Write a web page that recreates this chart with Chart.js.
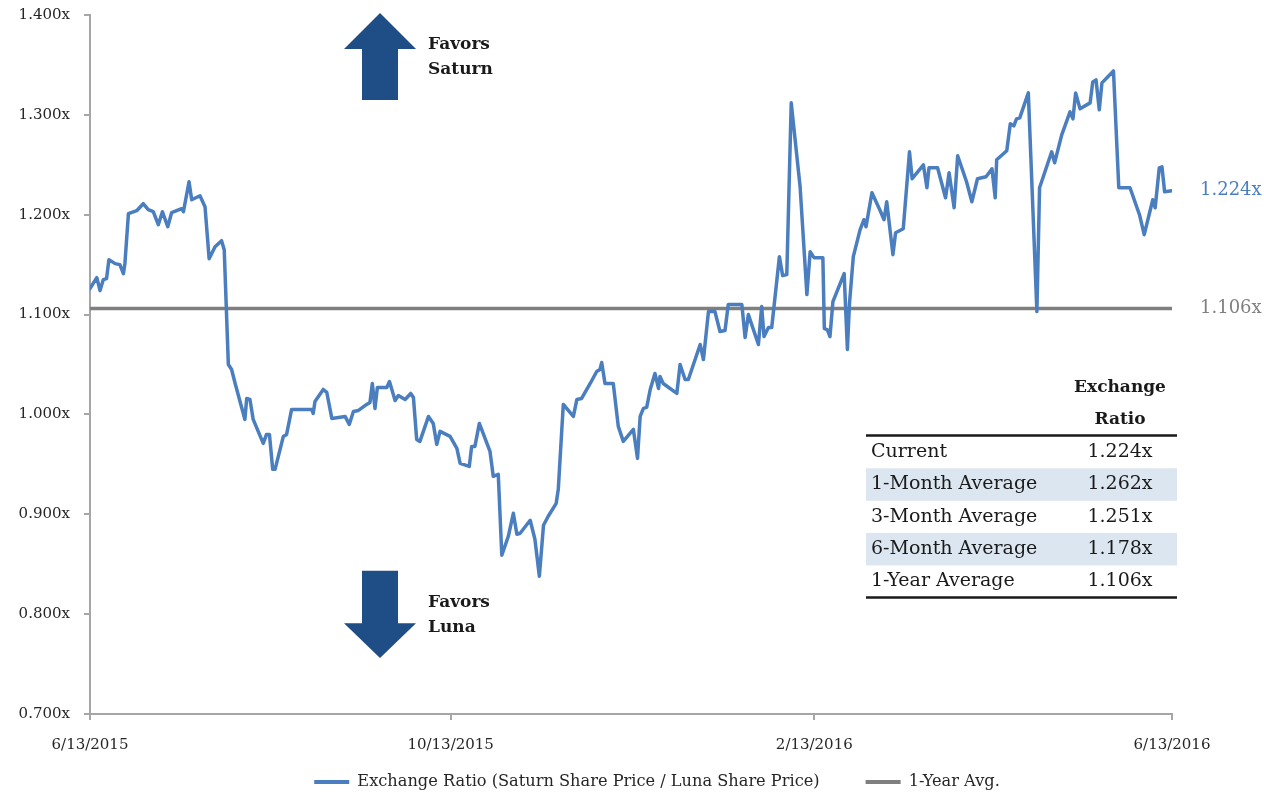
<!DOCTYPE html>
<html>
<head>
<meta charset="utf-8">
<script src="https://cdn.jsdelivr.net/npm/chart.js@4.4.0/dist/chart.umd.min.js"></script>
<style>
html,body{margin:0;padding:0;background:#fff;}
#wrap{width:1264px;height:793px;position:relative;}
canvas{display:block;}
</style>
</head>
<body>
<div id="wrap"><canvas id="c" width="1264" height="793"></canvas></div>
<script>
// ---------------- DATA ----------------
const tickDays = [0, 122, 245, 366];
const tickLabels = ['6/13/2015', '10/13/2015', '2/13/2016', '6/13/2016'];
const seriesNames = ['Exchange Ratio (Saturn Share Price / Luna Share Price)', '1-Year Avg.'];

// days since 6/13/2015
const days = [0,2.3,3.4,4.5,5.6,6.4,8.5,10.1,11.3,11.8,
13.0,15.8,18.0,19.7,21.4,23.1,24.5,26.3,27.6,31.0,
31.6,33.5,34.4,37.2,38.9,40.3,42.3,44.5,45.4,46.8,
47.9,49.1,52.4,53.0,54.1,55.2,58.6,59.7,60.7,61.8,
62.6,65.4,66.5,68.2,75.0,75.5,76.1,78.9,80.1,81.8,
86.3,87.7,89.1,90.8,93.6,94.7,95.5,96.4,97.2,100.4,
101.3,103.2,104.3,106.6,108.5,109.4,110.5,111.6,114.5,116.1,
117.3,118.4,121.8,124.1,125.2,128.3,129.1,130.2,131.7,135.3,
136.4,138.1,139.3,141.5,143.2,144.4,145.5,148.9,150.5,152.0,
153.4,155.0,157.7,158.4,160.1,163.5,164.7,166.3,169.2,171.4,
172.5,173.1,174.2,177.0,178.7,180.4,183.8,185.2,186.1,187.2,
188.3,189.5,191.1,192.3,192.8,193.9,198.5,199.6,201.3,202.4,
206.4,207.5,209.2,211.4,213.1,214.8,215.9,220.5,221.6,222.7,
226.1,227.2,228.0,229.5,230.6,233.2,234.3,235.7,237.2,240.2,
242.5,243.6,244.9,247.9,248.4,249.4,250.3,251.3,255.1,256.2,
256.9,258.2,260.5,261.8,262.5,264.5,267.3,268.6,269.5,271.6,
272.5,275.1,277.2,278.1,281.9,283.1,283.8,286.7,289.4,290.6,
292.3,293.5,296.5,298.3,300.2,303.1,305.1,306.2,306.7,310.1,
311.3,312.5,313.4,314.5,317.4,320.3,321.2,325.3,326.3,328.7,
331.5,332.5,333.4,334.9,338.3,339.2,340.3,341.4,342.3,346.2,
348.0,351.8,355.0,356.6,359.5,360.3,361.7,362.6,363.5,366.0];

const ratio = [1.126,1.137,1.124,1.135,1.136,1.155,1.151,1.150,1.141,1.151,
1.201,1.204,1.211,1.205,1.203,1.190,1.203,1.188,1.202,1.206,
1.203,1.233,1.215,1.219,1.208,1.156,1.168,1.174,1.165,1.050,
1.045,1.031,0.995,1.016,1.015,0.995,0.971,0.980,0.980,0.945,
0.945,0.978,0.980,1.005,1.005,1.001,1.013,1.025,1.022,0.996,
0.998,0.990,1.003,1.004,1.010,1.012,1.031,1.006,1.027,1.027,
1.033,1.014,1.019,1.015,1.021,1.017,0.975,0.973,0.998,0.991,
0.970,0.983,0.978,0.966,0.951,0.948,0.968,0.968,0.991,0.963,
0.938,0.940,0.859,0.878,0.901,0.880,0.881,0.894,0.875,0.838,
0.889,0.898,0.911,0.925,1.010,0.998,1.015,1.016,1.031,1.043,
1.045,1.052,1.031,1.031,0.988,0.973,0.985,0.956,0.998,1.006,
1.007,1.025,1.041,1.026,1.038,1.031,1.021,1.050,1.035,1.035,
1.070,1.055,1.103,1.103,1.083,1.084,1.110,1.110,1.077,1.100,
1.070,1.108,1.078,1.087,1.087,1.158,1.139,1.140,1.312,1.228,
1.120,1.163,1.157,1.157,1.086,1.085,1.078,1.113,1.141,1.065,
1.111,1.158,1.185,1.195,1.188,1.222,1.204,1.195,1.213,1.160,
1.182,1.186,1.263,1.236,1.250,1.227,1.247,1.247,1.217,1.242,
1.207,1.259,1.233,1.213,1.236,1.238,1.246,1.217,1.255,1.264,
1.291,1.289,1.296,1.297,1.322,1.103,1.227,1.263,1.252,1.280,
1.303,1.296,1.322,1.306,1.312,1.333,1.335,1.305,1.332,1.344,
1.227,1.227,1.200,1.180,1.215,1.207,1.247,1.248,1.223,1.224];

const avgDays = [0, 366];
const avgValues = [1.106, 1.106];

const tableHeader = ['Exchange', 'Ratio'];
const tableLabels = ['Current', '1-Month Average', '3-Month Average', '6-Month Average', '1-Year Average'];
const tableValues = [1.224, 1.262, 1.251, 1.178, 1.106];

const favorsUp = ['Favors', 'Saturn'];
const favorsDown = ['Favors', 'Luna'];

// ---------------- STYLE ----------------
const BLUE = '#4a7ebf', GRAY = '#7f7f7f', NAVY = '#1f4d85', TEXT = '#262626', AXIS = '#a6a6a6', SHADE = '#dce6f1';
const FONT = "'DejaVu Serif', serif";
Chart.defaults.font.family = FONT;
Chart.defaults.color = TEXT;
const fmt = v => v.toFixed(3) + 'x';

const LEGEND_FONT = 16.2, LEGEND_PAD = 46;
const LEGEND_DX = 71, LEGEND_DY = 7;
const X_AXIS_H = 793 - 714 - (LEGEND_FONT + LEGEND_PAD + 10);

const legendShift = {
  id: 'legendShift',
  afterLayout(chart) {
    const l = chart.legend;
    if (!l) return;
    l.left += LEGEND_DX; l.right += LEGEND_DX;
    l.top += LEGEND_DY; l.bottom += LEGEND_DY;
  }
};

const annot = {
  id: 'annot',
  afterDraw(chart) {
    const {ctx, chartArea: ca, scales: {x, y}} = chart;
    ctx.save();
    // arrows
    const cx = x.getPixelForValue(98.1);
    const headHalf = 36, shaftHalf = 18;
    const poly = pts => { ctx.beginPath(); pts.forEach((p, i) => i ? ctx.lineTo(p[0], p[1]) : ctx.moveTo(p[0], p[1])); ctx.closePath(); ctx.fill(); };
    ctx.fillStyle = NAVY;
    let tip = y.getPixelForValue(1.402), base = y.getPixelForValue(1.366), end = y.getPixelForValue(1.315);
    poly([[cx, tip], [cx + headHalf, base], [cx + shaftHalf, base], [cx + shaftHalf, end], [cx - shaftHalf, end], [cx - shaftHalf, base], [cx - headHalf, base]]);
    const upTip = tip;
    let top = y.getPixelForValue(0.8435); base = y.getPixelForValue(0.7910); tip = y.getPixelForValue(0.7560);
    poly([[cx - shaftHalf, top], [cx + shaftHalf, top], [cx + shaftHalf, base], [cx + headHalf, base], [cx, tip], [cx - headHalf, base], [cx - shaftHalf, base]]);
    // favors text
    ctx.fillStyle = '#1a1a1a';
    ctx.font = "bold 17px " + FONT;
    ctx.textAlign = 'left'; ctx.textBaseline = 'middle';
    ctx.fillText(favorsUp[0], cx + 48, upTip + 32);
    ctx.fillText(favorsUp[1], cx + 48, upTip + 57);
    ctx.fillText(favorsDown[0], cx + 48, top + 32);
    ctx.fillText(favorsDown[1], cx + 48, top + 57);
    // right end labels
    ctx.font = "18px " + FONT;
    ctx.fillStyle = BLUE;
    ctx.fillText(fmt(ratio[ratio.length - 1]), ca.right + 28, y.getPixelForValue(ratio[ratio.length - 1]));
    ctx.fillStyle = GRAY;
    ctx.fillText(fmt(avgValues[0]), ca.right + 28, y.getPixelForValue(avgValues[0]));
    // table
    const tL = ca.right - 306, tR = ca.right + 5, vC = ca.right - 52;
    const rowY0 = 452, rowH = 32.3;
    ctx.fillStyle = SHADE;
    tableLabels.forEach((l, i) => { if (i % 2 === 1) ctx.fillRect(tL, rowY0 + i * rowH - 16, tR - tL, 32.5); });
    ctx.fillStyle = '#1a1a1a';
    ctx.font = "bold 17px " + FONT;
    ctx.textAlign = 'center';
    ctx.fillText(tableHeader[0], vC, 388);
    ctx.fillText(tableHeader[1], vC, 420);
    ctx.strokeStyle = '#1a1a1a'; ctx.lineWidth = 2.5;
    ctx.beginPath(); ctx.moveTo(tL, 435.5); ctx.lineTo(tR, 435.5); ctx.moveTo(tL, 597.5); ctx.lineTo(tR, 597.5); ctx.stroke();
    ctx.font = "19px " + FONT;
    tableLabels.forEach((l, i) => {
      const yy = rowY0 + i * rowH;
      ctx.textAlign = 'left'; ctx.fillText(l, tL + 5, yy);
      ctx.textAlign = 'center'; ctx.fillText(fmt(tableValues[i]), vC, yy);
    });
    ctx.restore();
  }
};

const axisGrid = {drawOnChartArea: false, drawTicks: true, tickLength: 6, color: AXIS, lineWidth: 2};
const axisBorder = {display: true, color: AXIS, width: 2};

new Chart(document.getElementById('c').getContext('2d'), {
  type: 'line',
  data: {
    datasets: [
      {label: seriesNames[0], data: days.map((d, i) => ({x: d, y: ratio[i]})), borderColor: BLUE, backgroundColor: BLUE,
       borderWidth: 3.5, pointRadius: 0, tension: 0, borderJoinStyle: 'round', borderCapStyle: 'round'},
      {label: seriesNames[1], data: avgDays.map((d, i) => ({x: d, y: avgValues[i]})), borderColor: GRAY, backgroundColor: GRAY,
       borderWidth: 3.5, pointRadius: 0, tension: 0}
    ]
  },
  options: {
    responsive: false, animation: false, devicePixelRatio: 1,
    layout: {padding: {top: 15, right: 92, bottom: 0, left: 0}},
    scales: {
      x: {
        type: 'linear', min: 0, max: 366,
        afterBuildTicks: s => { s.ticks = tickDays.map(v => ({value: v})); },
        afterFit: s => { s.height = X_AXIS_H; s._computeLabelArea = () => undefined; },
        ticks: {callback: v => tickLabels[tickDays.indexOf(v)], font: {size: 15}, color: TEXT, padding: 16, maxRotation: 0, autoSkip: false},
        grid: axisGrid, border: axisBorder
      },
      y: {
        min: 0.7, max: 1.4,
        afterFit: s => { s.width = 90; s.paddingTop = 0; s.paddingBottom = 0; },
        ticks: {stepSize: 0.1, callback: v => fmt(v), font: {size: 15}, color: TEXT, padding: 14},
        grid: axisGrid, border: axisBorder
      }
    },
    plugins: {
      legend: {
        position: 'bottom',
        labels: {
          boxWidth: 35, boxHeight: 4, padding: LEGEND_PAD, font: {size: LEGEND_FONT}, color: TEXT,
          generateLabels: chart => Chart.defaults.plugins.legend.labels.generateLabels(chart).map(l => Object.assign(l, {lineWidth: 0}))
        }
      },
      tooltip: {enabled: false}
    }
  },
  plugins: [legendShift, annot]
});
</script>
</body>
</html>
